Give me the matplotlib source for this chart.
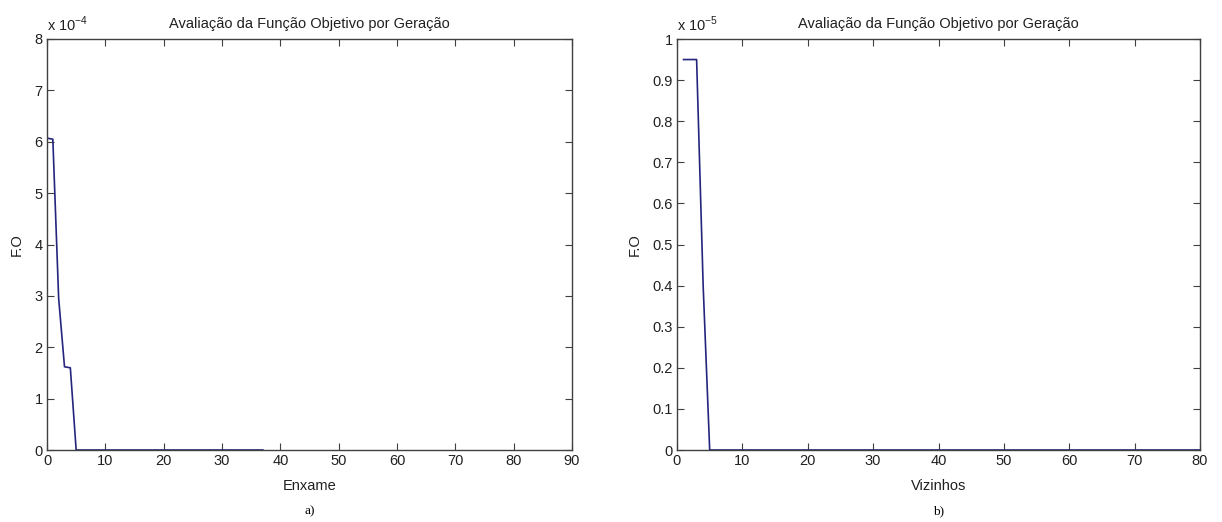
import matplotlib
matplotlib.use('Agg')
import matplotlib.pyplot as plt
from matplotlib.ticker import FuncFormatter

plt.rcParams['font.family'] = ['Liberation Sans', 'DejaVu Sans']
plt.rcParams['axes.unicode_minus'] = False

# dados lidos do grafico a) - Enxame (escala 1e-4)
gen_a = list(range(0, 38))
fo_a = [6.07e-4, 6.05e-4, 2.95e-4, 1.62e-4, 1.60e-4] + [0.0] * 33

# dados lidos do grafico b) - Vizinhos (escala 1e-5)
gen_b = list(range(1, 81))
fo_b = [0.95e-5, 0.95e-5, 0.95e-5, 0.40e-5] + [0.0] * 76

title = 'Avaliação da Função Objetivo por Geração'
line_color = '#25257e'
axis_color = '#404040'
fs = 10.5

fig = plt.figure(figsize=(12.22, 5.22), dpi=100)
ax1 = fig.add_axes([47/1222, 1-450/522, 525/1222, 411/522])
ax2 = fig.add_axes([677/1222, 1-450/522, 523/1222, 411/522])


def style(ax):
    for s in ax.spines.values():
        s.set_color(axis_color)
        s.set_linewidth(1.0)
    ax.tick_params(direction='in', top=True, right=True, length=5,
                   color=axis_color, labelsize=fs, labelcolor='#202020', pad=3)


# a)
ax1.plot(gen_a, fo_a, color=line_color, lw=1.2)
ax1.set_xlim(0, 90)
ax1.set_ylim(0, 8e-4)
ax1.set_xticks(range(0, 91, 10))
ax1.set_yticks([i * 1e-4 for i in range(9)])
ax1.yaxis.set_major_formatter(FuncFormatter(lambda v, p: '%g' % round(v / 1e-4, 6)))
style(ax1)
ax1.set_title(title, fontsize=fs, pad=8, color='#202020')
ax1.set_xlabel('Enxame', fontsize=fs, labelpad=8, color='#202020')
ax1.set_ylabel('F.O', fontsize=fs, labelpad=8, color='#202020')
ax1.text(0, 1.012, 'x 10$^{\\mathregular{-4}}$', transform=ax1.transAxes,
         fontsize=fs, va='bottom', ha='left', color='#202020')
ax1.text(0.5, -0.135, 'a)', transform=ax1.transAxes, fontsize=9.5,
         ha='center', va='top', family='Liberation Serif')

# b)
ax2.plot(gen_b, fo_b, color=line_color, lw=1.2)
ax2.set_xlim(0, 80)
ax2.set_ylim(0, 1e-5)
ax2.set_xticks(range(0, 81, 10))
ax2.set_yticks([i * 1e-6 for i in range(11)])
ax2.yaxis.set_major_formatter(FuncFormatter(lambda v, p: '%g' % round(v / 1e-5, 6)))
style(ax2)
ax2.set_title(title, fontsize=fs, pad=8, color='#202020')
ax2.set_xlabel('Vizinhos', fontsize=fs, labelpad=8, color='#202020')
ax2.set_ylabel('F.O', fontsize=fs, labelpad=8, color='#202020')
ax2.text(0, 1.012, 'x 10$^{\\mathregular{-5}}$', transform=ax2.transAxes,
         fontsize=fs, va='bottom', ha='left', color='#202020')
ax2.text(0.5, -0.135, 'b)', transform=ax2.transAxes, fontsize=9.5,
         ha='center', va='top', family='Liberation Serif')

fig.savefig('out.png', dpi=100, facecolor='white')
